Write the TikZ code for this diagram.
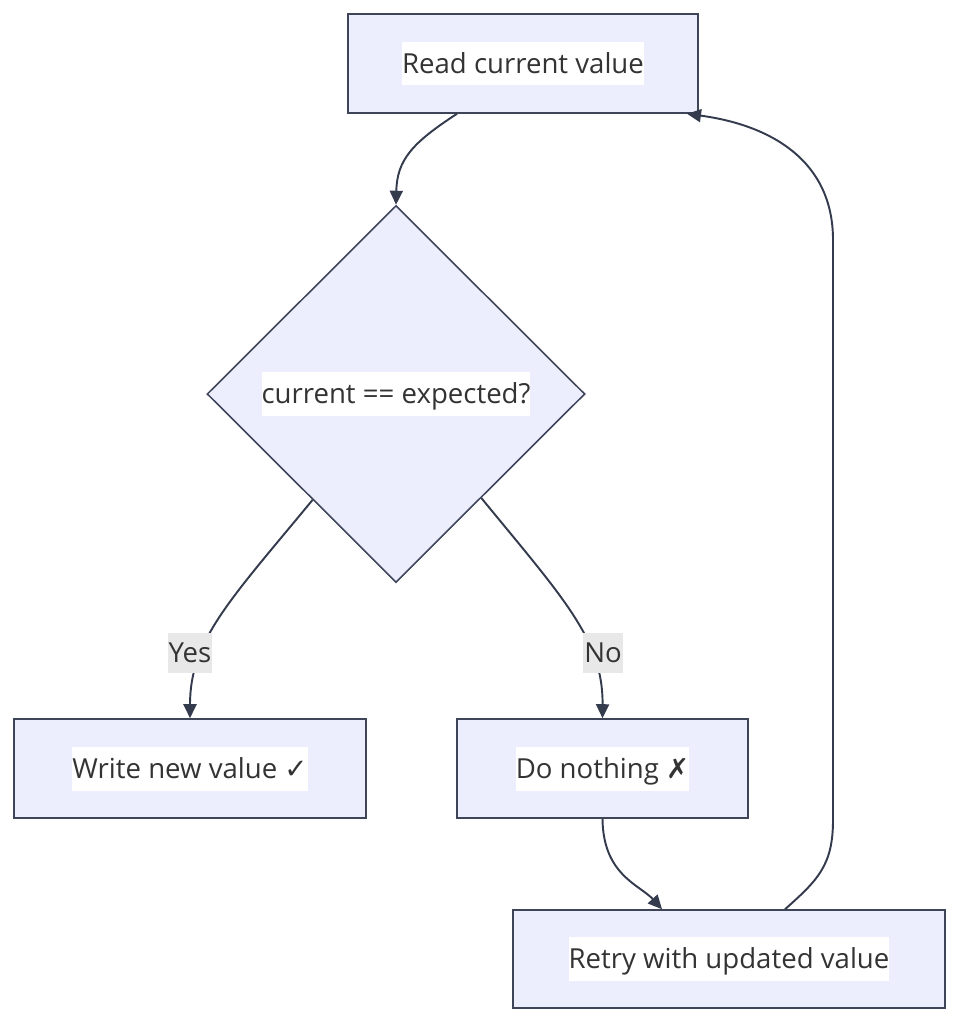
\documentclass[tikz,border=0pt]{standalone}
\usepackage{fontspec}
\setmainfont{Open Sans}
\newfontfamily\symfont{DejaVu Sans}
\usepackage{tikz}
\usetikzlibrary{positioning, calc, arrows.meta, shapes.geometric}
\definecolor{boxfill}{HTML}{ECEEFE}
\definecolor{boxline}{HTML}{3E4558}
\definecolor{edgeline}{HTML}{333B4D}
\definecolor{labelbg}{HTML}{E8E8E8}
\definecolor{txtcol}{HTML}{333333}
\tikzset{stepbox/.style={draw=boxline, fill=boxfill, line width=0.9pt, minimum height=1.98cm, inner sep=0pt}}
\tikzset{decision/.style={diamond, draw=boxline, fill=boxfill, line width=0.9pt, minimum width=7.56cm, minimum height=7.54cm, inner sep=0pt}}
\tikzset{boxtext/.style={fill=white, text=txtcol, inner xsep=0pt, inner ysep=0pt, minimum height=0.88cm, text height=13.5pt, text depth=2.3pt, font=\fontsize{15.7}{19}\selectfont}}
\tikzset{edgetext/.style={fill=labelbg, text=txtcol, inner xsep=0.5pt, inner ysep=0pt, minimum height=0.8cm, text height=13.5pt, text depth=2.3pt, font=\fontsize{15.7}{19}\selectfont}}
\tikzset{flow/.style={draw=edgeline, line width=1.1pt, -{Triangle[length=2.8mm, width=2.6mm]}}}

\begin{document}
\begin{tikzpicture}[x=0.02cm, y=-0.02cm]

      \useasboundingbox (0,0) rectangle (960,1024);

      % BOXES AND DECISION

      \node[stepbox, minimum width=7cm] (read) at (523,63.5) {};
      \node[decision] (check) at (396,394) {};
      \node[stepbox, minimum width=7.04cm] (write) at (190,768.5) {};
      \node[stepbox, minimum width=5.82cm] (nothing) at (602.5,768.5) {};
      \node[stepbox, minimum width=8.64cm, minimum height=1.96cm] (retry) at (729,959) {};

      % TEXTS

      \node[boxtext] (readText) at (read) {Read current value};
      \node[boxtext] (checkText) at (check) {current == expected?};
      \node[boxtext] (writeText) at (write) {Write new value {\symfont ✓}};
      \node[boxtext] (nothingText) at (nothing) {Do nothing {\symfont ✗}};
      \node[boxtext] (retryText) at (retry) {Retry with updated value};

      % ARCS

      \coordinate (readOut) at ($(read.south)+(-66,0)$);
      \coordinate (yesOut) at ($(check.west)!0.56!(check.south)$);
      \coordinate (noOut) at ($(check.south)!0.45!(check.east)$);
      \coordinate (retryOut) at ($(retry.north)+(56,0)$);
      \coordinate (readIn) at ($(read.south)+(164,0)$);

      \draw[flow] (readOut) .. controls (412,143) and (397,160) .. (check.north);
      \draw[flow] (yesOut) .. controls (230,600) and (190,640) .. (write.north);
      \draw[flow] (noOut) .. controls (565,600) and (603,640) .. (nothing.north);
      \draw[flow] (nothing.south) .. controls (603,875) and (640,885) .. ($(retry.north)+(-67,0)$);
      \draw[flow] (retryOut) .. controls (818,880) and (833,865) .. (833,820) -- (833,240) .. controls (833,160) and (770,125) .. (readIn);

      % EDGE LABELS

      \node[edgetext] (yesLabel) at (190,653) {Yes};
      \node[edgetext] (noLabel) at (603,653) {No};

    \end{tikzpicture}
\end{document}
